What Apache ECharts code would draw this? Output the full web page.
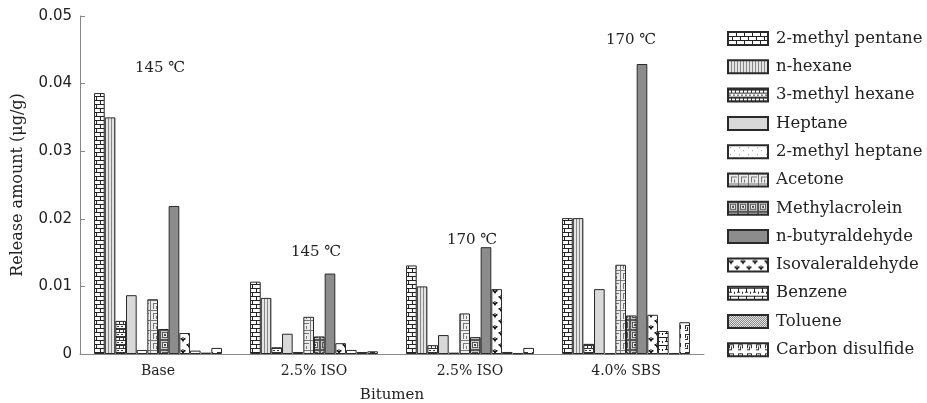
<!DOCTYPE html>
<html>
<head>
<meta charset="utf-8">
<script src="https://cdn.jsdelivr.net/npm/echarts@6/dist/echarts.min.js"></script>
<style>
  html, body { margin: 0; padding: 0; background: #fff; }
  #chart { width: 927px; height: 403px; }
</style>
</head>
<body>
<div id="chart"></div>
<script>
// Bitumen samples on the x axis
const categories = ['Base', '2.5% ISO', '2.5% ISO', '4.0% SBS'];

// Release amount (μg/g) of each volatile compound, one value per sample
const methylPentane2   = [0.0386, 0.0107, 0.0131, 0.0201];
const nHexane          = [0.0350, 0.0083, 0.0100, 0.0201];
const methylHexane3    = [0.0049, 0.0010, 0.0013, 0.0015];
const heptane          = [0.0087, 0.0030, 0.0028, 0.0096];
const methylHeptane2   = [0.0006, 0.0003, 0.0002, 0.0001];
const acetone          = [0.0081, 0.0055, 0.0060, 0.0132];
const methylacrolein   = [0.0037, 0.0026, 0.0025, 0.0057];
const nButyraldehyde   = [0.0219, 0.0119, 0.0158, 0.0429];
const isovaleraldehyde = [0.0031, 0.0016, 0.0096, 0.0058];
const benzene          = [0.0005, 0.0006, 0.0003, 0.0034];
const toluene          = [0.0002, 0.0003, 0.0001, 0.0001];
const carbonDisulfide  = [0.0009, 0.0004, 0.0009, 0.0047];

// Temperature notes shown above each sample group
const tempNotes = ['145 ℃', '145 ℃', '170 ℃', '170 ℃'];
const tempNoteLevel = [0.0423, 0.0151, 0.0169, 0.0464];

const yTickLabels = ['0', '0.01', '0.02', '0.03', '0.04', '0.05'];

const serif = "'DejaVu Serif', 'Liberation Serif', serif";
const sans = "'DejaVu Sans', sans-serif";
const ink = '#222';

// ---- monochrome fill patterns ----
function tile(w, h, draw) {
  const c = document.createElement('canvas');
  c.width = w; c.height = h;
  const g = c.getContext('2d');
  draw(g, w, h);
  return { image: c, repeat: 'repeat' };
}
const fills = {
  brick: tile(8, 8, (g) => {
    g.fillStyle = '#fff'; g.fillRect(0, 0, 8, 8);
    g.fillStyle = '#222';
    g.fillRect(0, 0, 8, 1); g.fillRect(0, 4, 8, 1);
    g.fillRect(0, 0, 1, 4); g.fillRect(4, 4, 1, 4);
  }),
  vlines: tile(3, 1, (g) => {
    g.fillStyle = '#e4e4e4'; g.fillRect(0, 0, 3, 1);
    g.fillStyle = '#888'; g.fillRect(0, 0, 1, 1);
  }),
  blocks: tile(8, 8, (g) => {
    g.fillStyle = '#fff'; g.fillRect(0, 0, 8, 8);
    g.fillStyle = '#333';
    g.fillRect(0, 0, 8, 2); g.fillRect(0, 4, 8, 1);
    g.fillRect(3, 2, 1, 2); g.fillRect(7, 2, 1, 2);
    g.fillRect(1, 6, 2, 1); g.fillRect(5, 6, 2, 1);
  }),
  lightGrey: '#d9d9d9',
  sparseDots: tile(9, 7, (g) => {
    g.fillStyle = '#fff'; g.fillRect(0, 0, 9, 7);
    g.fillStyle = '#999';
    g.fillRect(2, 2, 1, 1); g.fillRect(6, 5, 1, 1);
  }),
  fret: tile(10, 10, (g) => {
    g.fillStyle = '#eee'; g.fillRect(0, 0, 10, 10);
    g.fillStyle = '#777';
    g.fillRect(0, 0, 10, 1); g.fillRect(0, 0, 1, 10);
    g.fillRect(3, 3, 6, 1); g.fillRect(3, 3, 1, 6);
    g.fillRect(6, 6, 1, 3);
  }),
  squares: tile(10, 10, (g) => {
    g.fillStyle = '#555'; g.fillRect(0, 0, 10, 10);
    g.fillStyle = '#ccc'; g.fillRect(1, 1, 8, 8);
    g.fillStyle = '#555'; g.fillRect(2, 2, 6, 6);
    g.fillStyle = '#eee'; g.fillRect(3, 3, 4, 4);
    g.fillStyle = '#444'; g.fillRect(4, 4, 2, 2);
  }),
  midGrey: '#8c8c8c',
  spades: tile(12, 12, (g) => {
    g.fillStyle = '#fff'; g.fillRect(0, 0, 12, 12);
    g.fillStyle = '#111';
    const spade = (x, y) => {
      g.beginPath();
      g.moveTo(x, y); g.lineTo(x + 4, y); g.lineTo(x + 2, y + 3); g.closePath(); g.fill();
      g.fillRect(x + 1.5, y - 2, 1, 2);
      g.fillRect(x - 0.5, y - 1, 1.5, 1.5); g.fillRect(x + 3, y - 1, 1.5, 1.5);
    };
    spade(1, 3); spade(7, 9);
  }),
  tees: tile(8, 8, (g) => {
    g.fillStyle = '#fff'; g.fillRect(0, 0, 8, 8);
    g.fillStyle = '#222';
    g.fillRect(0, 1, 8, 1);
    g.fillRect(2, 2, 1, 3); g.fillRect(1, 5, 3, 1);
    g.fillRect(6, 5, 1, 2);
  }),
  stipple: tile(2, 2, (g) => {
    g.fillStyle = '#e6e6e6'; g.fillRect(0, 0, 2, 2);
    g.fillStyle = '#888'; g.fillRect(0, 0, 1, 1); g.fillRect(1, 1, 1, 1);
  }),
  hooks: tile(9, 9, (g) => {
    g.fillStyle = '#fff'; g.fillRect(0, 0, 9, 9);
    g.fillStyle = '#333';
    g.fillRect(1, 1, 5, 1); g.fillRect(1, 1, 1, 4); g.fillRect(5, 1, 1, 4);
    g.fillRect(3, 3, 1, 4); g.fillRect(1, 6, 3, 1);
  })
};

const seriesDefs = [
  ['2-methyl pentane', methylPentane2, fills.brick],
  ['n-hexane', nHexane, fills.vlines],
  ['3-methyl hexane', methylHexane3, fills.blocks],
  ['Heptane', heptane, fills.lightGrey],
  ['2-methyl heptane', methylHeptane2, fills.sparseDots],
  ['Acetone', acetone, fills.fret],
  ['Methylacrolein', methylacrolein, fills.squares],
  ['n-butyraldehyde', nButyraldehyde, fills.midGrey],
  ['Isovaleraldehyde', isovaleraldehyde, fills.spades],
  ['Benzene', benzene, fills.tees],
  ['Toluene', toluene, fills.stipple],
  ['Carbon disulfide', carbonDisulfide, fills.hooks]
];

const series = seriesDefs.map(([name, values, fill]) => ({
  name,
  type: 'bar',
  data: values,
  barGap: '0%',
  barCategoryGap: '18%',
  itemStyle: { color: fill, borderColor: '#2a2a2a', borderWidth: 1 },
  emphasis: { disabled: true },
  animation: false
}));

const chart = echarts.init(document.getElementById('chart'), null, { renderer: 'canvas' });
chart.setOption({
  animation: false,
  grid: { left: 80, right: 223, top: 16, bottom: 49, containLabel: false, outerBoundsMode: 'none' },
  legend: {
    orient: 'vertical',
    left: 727,
    top: 30,
    padding: 0,
    itemWidth: 40,
    itemHeight: 13,
    itemGap: 11.3,
    icon: 'rect',
    selectedMode: false,
    textStyle: { fontFamily: serif, fontSize: 16.5, color: ink, padding: [0, 0, 0, 3] },
    data: seriesDefs.map(d => d[0])
  },
  xAxis: {
    type: 'category',
    data: categories,
    name: 'Bitumen',
    nameLocation: 'middle',
    nameGap: 34,
    nameTextStyle: { fontFamily: serif, fontSize: 15, color: ink },
    axisLine: { lineStyle: { color: '#888', width: 1 } },
    axisTick: { show: false },
    axisLabel: { fontFamily: serif, fontSize: 14, color: ink, margin: 10 }
  },
  yAxis: {
    type: 'value',
    min: 0,
    max: 0.05,
    interval: 0.01,
    name: 'Release amount (μg/g)',
    nameLocation: 'middle',
    nameGap: 54,
    nameTextStyle: { fontFamily: serif, fontSize: 16, color: ink },
    splitLine: { show: false },
    axisLine: { show: true, lineStyle: { color: '#888', width: 1 } },
    axisTick: { show: true, inside: true, length: 5, lineStyle: { color: '#888' } },
    axisLabel: {
      fontFamily: sans, fontSize: 15, color: ink, margin: 8,
      formatter: (v) => yTickLabels[Math.round(v / 0.01)]
    }
  },
  series
});

// Temperature notes placed through the chart's own coordinate system
const notes = tempNotes.map((text, i) => {
  const [px, py] = chart.convertToPixel({ gridIndex: 0 }, [i, tempNoteLevel[i]]);
  return {
    type: 'text',
    x: px + (i === 3 ? 5 : 2),
    y: py,
    style: {
      text, fontFamily: serif, fontSize: 15, fill: ink,
      textAlign: 'center', textVerticalAlign: 'middle'
    }
  };
});
chart.setOption({ graphic: notes });
</script>
</body>
</html>
